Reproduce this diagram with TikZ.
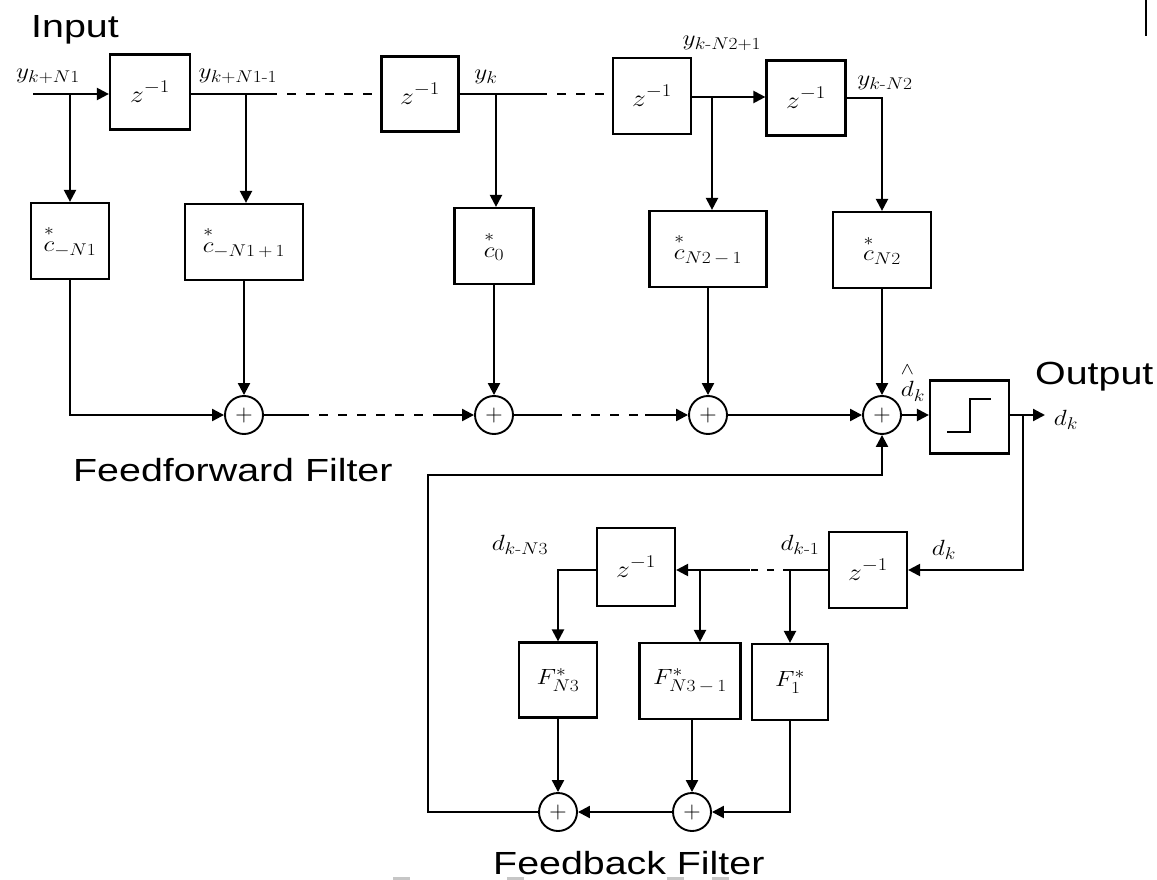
\RequirePackage{fix-cm}
\documentclass[tikz,border=0pt]{standalone}
\usepackage{fontspec}
\usepackage{amsmath}
\usepackage{graphicx}
\usetikzlibrary{arrows.meta,calc}
\newfontfamily\capfont[FakeStretch=1.23]{Liberation Sans}
\DeclareMathSizes{22}{22}{17}{13}
\DeclareMathSizes{24}{24}{18}{14}
\DeclareMathSizes{26}{26}{20}{15}
\newcommand{\mlab}[1]{\scalebox{1.15}[1]{$#1$}}
\newcommand{\hy}{\text{-}}
\newcommand{\conj}[1]{\overset{\raisebox{2pt}{$\scriptstyle *$}}{#1}}
\newcommand{\est}[1]{\overset{\raisebox{3pt}{$\scriptstyle\wedge$}}{#1}}
\newcommand{\zinv}{\scalebox{1.15}[1]{$z^{\raisebox{1pt}{$\scriptstyle -1$}}$}}

\tikzset{
  wire/.style={line width=2.2pt},
  sig/.style={wire,-{Triangle[length=12pt,width=12pt]}},
  gapwire/.style={line width=1.6pt,dash pattern=on 9pt off 10pt},
  fbgap/.style={line width=1.6pt,dash pattern=on 7pt off 9pt},
  blk/.style={draw,line width=2.2pt,inner sep=0pt,minimum height=76pt,
    font=\fontsize{22}{26}\selectfont},
  dly/.style={blk,font=\fontsize{24}{28}\selectfont},
  adder/.style={circle,draw,line width=1.9pt,minimum size=38pt,inner sep=0pt,
    font=\fontsize{24}{26}\selectfont},
  mathlab/.style={inner sep=0pt,font=\fontsize{22}{26}\selectfont},
  caption/.style={inner sep=0pt,anchor=base west,
    font=\capfont\fontsize{32}{36}\selectfont}
}

\begin{document}
\begin{tikzpicture}[x=1pt,y=-1pt]
\useasboundingbox (0,0) rectangle (1157,880);

% ---------- feedforward delay line ----------
\coordinate (in) at (33,94);
\node[dly,minimum width=80pt,minimum height=75pt] (z1) at (150,92) {\zinv};
\node[dly,minimum width=77pt,minimum height=75pt] (z2) at (420,94) {\zinv};
\node[dly,minimum width=78pt,minimum height=76pt] (z3) at (652,96) {\zinv};
\node[dly,minimum width=79pt,minimum height=75pt] (z4) at (806,98) {\zinv};

% ---------- feedforward taps ----------
\node[blk,minimum width=78pt] (c1) at (70,241)  {\mlab{\conj{c}_{-N1}}};
\node[blk,minimum width=118pt] (c2) at (244,242) {\mlab{\conj{c}_{-N1\,+\,1}}};
\node[blk,minimum width=79pt] (c0) at (494,246) {\mlab{\conj{c}_{0}}};
\node[blk,minimum width=117pt] (c3) at (708,249) {\mlab{\conj{c}_{N2\,-\,1}}};
\node[blk,minimum width=98pt] (c4) at (882,250) {\mlab{\conj{c}_{N2}}};

% ---------- summing junctions ----------
\node[adder] (a1) at (244,415) {$+$};
\node[adder] (a2) at (494,415) {$+$};
\node[adder] (a3) at (708,415) {$+$};
\node[adder] (a4) at (882,415) {$+$};

% ---------- decision device ----------
\node[blk,minimum width=79pt,minimum height=73pt] (Q) at (969.5,417) {};
\draw[wire] ($(Q.center)+(-22.5,15)$) -- ++(23,0) -- ++(0,-33) -- ++(21,0);
\coordinate (out) at (1045,415);

% ---------- feedback delay line and taps ----------
\node[dly,minimum width=78pt] (zR) at (868,570) {\zinv};
\node[dly,minimum width=78pt,minimum height=78pt] (zL) at (636,567) {\zinv};
\node[blk,minimum width=78pt,minimum height=75pt] (FN3) at (558,680) {\mlab{F^{*}_{N3}}};
\node[blk,minimum width=101pt] (FN3m) at (690,681) {\mlab{F^{*}_{N3\,-\,1}}};
\node[blk,minimum width=76pt] (F1) at (790,682) {\mlab{F^{*}_{1}}};
\node[adder] (a5) at (558,812) {$+$};
\node[adder] (a6) at (692,812) {$+$};

% ---------- connections: feedforward ----------
\draw[sig] (in) -- (z1.west |- in);
\coordinate (b1) at (70,94);
\draw[sig] (b1) -- (c1.north);
\draw[wire] (z1.east |- in) -- (268,94) coordinate (d1);
\draw[gapwire] (d1) -- (z2.west);
\coordinate (b2) at (246,94);
\draw[sig] (b2) -- (b2 |- c2.north);
\draw[wire] (z2.east) -- (538,94) coordinate (d2);
\draw[gapwire] (d2) -- (z3.west |- d2);
\coordinate (b3) at (496,94);
\draw[sig] (b3) -- (b3 |- c0.north);
\coordinate (t3) at (691,97);
\draw[sig] (z3.east |- t3) -- (z4.west |- t3);
\coordinate (b4) at (712,97);
\draw[sig] (b4) -- (b4 |- c3.north);
\draw[sig] (z4.east) -| (c4.north);

\draw[sig] (c1.south) |- (a1.west);
\draw[sig] (c2) -- (a1);
\draw[sig] (c0) -- (a2);
\draw[sig] (c3) -- (a3);
\draw[sig] (c4) -- (a4);
\draw[wire] (a1.east) -- (300,415) coordinate (d3);
\draw[gapwire] (d3) -- (435,415) coordinate (d4);
\draw[sig] (d4) -- (a2.west);
\draw[wire] (a2.east) -- (553,415) coordinate (d5);
\draw[gapwire] (d5) -- (645,415) coordinate (d6);
\draw[sig] (d6) -- (a3.west);
\draw[sig] (a3) -- (a4);
\draw[sig] (a4) -- (Q.west |- a4);
\draw[sig] (Q.east |- a4) -- (out);

% ---------- connections: feedback ----------
\coordinate (b5) at (1023,415);
\draw[sig] (b5) |- (zR.east);
\draw[wire] (zR.west) -- (790,570) coordinate (b6);
\draw[sig] (b6) -- (F1.north);
\draw[fbgap] (b6) -- (750,570) coordinate (d7);
\draw[sig] (d7) -- (zL.east |- d7);
\coordinate (b7) at (700,570);
\draw[sig] (b7) -- (b7 |- FN3m.north);
\draw[sig] (zL.west |- d7) -| (FN3.north);
\draw[sig] (FN3) -- (a5);
\draw[sig] (FN3m.south -| a6) -- (a6.north);
\draw[sig] (F1.south) |- (a6.east);
\draw[sig] (a6) -- (a5);
\draw[sig] (a5.west) -| (428,475) -| (a4.south);

% ---------- signal labels ----------
\node[mathlab] (ly1) at (48,76)   {\mlab{y_{k+N1}}};
\node[mathlab] (ly2) at (238,76)  {\mlab{y_{k+N1\hy1}}};
\node[mathlab] (ly3) at (486,77)  {\mlab{y_{k}}};
\node[mathlab] (ly4) at (722,43)  {\mlab{y_{k\hy N2+1}}};
\node[mathlab] (ly5) at (885,83)  {\mlab{y_{k\hy N2}}};
\node[mathlab] (ldh) at (913,382) {\mlab{\est{d}_{k}}};
\node[mathlab] (ldo) at (1066,420) {\mlab{d_{k}}};
\node[mathlab] (ld3) at (520,545) {\mlab{d_{k\hy N3}}};
\node[mathlab] (ld1) at (800,545) {\mlab{d_{k\hy1}}};
\node[mathlab] (ldk) at (944,550) {\mlab{d_{k}}};

% ---------- captions ----------
\node[caption] (tin)  at (31,38)   {Input};
\node[caption] (tout) at (1035,384) {Output};
\node[caption] (tff)  at (73,481)  {Feedforward Filter};
\node[caption] (tfb)  at (493,874) {Feedback Filter};

% ---------- page marks ----------
\draw[line width=1.5pt] (1146,0) -- (1146,36);
\foreach \x in {393,507,667,712}
  \fill[gray!45] (\x,877) rectangle ++(17,3);
\end{tikzpicture}
\end{document}
